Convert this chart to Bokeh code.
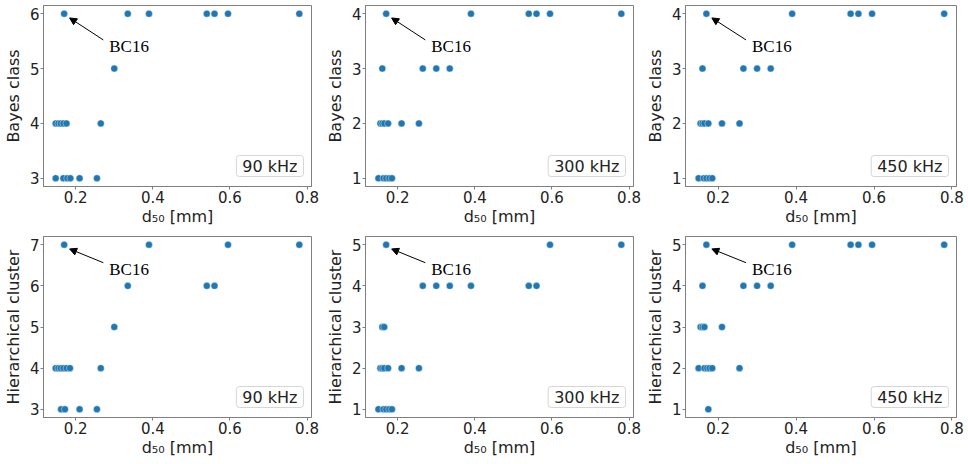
from bokeh.plotting import figure
from bokeh.layouts import column, row
from bokeh.models import Range1d, FixedTicker, Label, Arrow, NormalHead
from bokeh.embed import file_html
from bokeh.resources import INLINE

# ---------------- data ----------------
x_ticks = [0.2, 0.4, 0.6, 0.8]
x_label = "d\u2085\u2080 [mm]"
bc16_d50 = 0.17

bayes90_d50 = [0.17, 0.335, 0.39, 0.54, 0.56, 0.595, 0.78, 0.30,
               0.148, 0.155, 0.161, 0.168, 0.176, 0.265,
               0.148, 0.168, 0.178, 0.186, 0.21, 0.255]
bayes90_cls = [6, 6, 6, 6, 6, 6, 6, 5,
               4, 4, 4, 4, 4, 4,
               3, 3, 3, 3, 3, 3]

bayes300_d50 = [0.17, 0.39, 0.54, 0.56, 0.595, 0.78,
                0.16, 0.265, 0.30, 0.335,
                0.155, 0.16, 0.165, 0.175, 0.21, 0.255,
                0.15, 0.163, 0.17, 0.178, 0.185]
bayes300_cls = [4, 4, 4, 4, 4, 4,
                3, 3, 3, 3,
                2, 2, 2, 2, 2, 2,
                1, 1, 1, 1, 1]

bayes450_d50 = [0.17, 0.39, 0.54, 0.56, 0.595, 0.78,
                0.16, 0.265, 0.30, 0.335,
                0.155, 0.16, 0.165, 0.175, 0.21, 0.255,
                0.15, 0.163, 0.17, 0.178, 0.185]
bayes450_cls = [4, 4, 4, 4, 4, 4,
                3, 3, 3, 3,
                2, 2, 2, 2, 2, 2,
                1, 1, 1, 1, 1]

hier90_d50 = [0.17, 0.39, 0.595, 0.78,
              0.335, 0.54, 0.56,
              0.30,
              0.148, 0.155, 0.161, 0.168, 0.176, 0.185, 0.265,
              0.162, 0.172, 0.21, 0.255]
hier90_cls = [7, 7, 7, 7,
              6, 6, 6,
              5,
              4, 4, 4, 4, 4, 4, 4,
              3, 3, 3, 3]

hier300_d50 = [0.17, 0.595, 0.78,
               0.265, 0.30, 0.335, 0.39, 0.54, 0.56,
               0.16, 0.165,
               0.155, 0.16, 0.165, 0.175, 0.21, 0.255,
               0.15, 0.163, 0.17, 0.178, 0.185]
hier300_cls = [5, 5, 5,
               4, 4, 4, 4, 4, 4,
               3, 3,
               2, 2, 2, 2, 2, 2,
               1, 1, 1, 1, 1]

hier450_d50 = [0.17, 0.39, 0.54, 0.56, 0.595, 0.78,
               0.16, 0.265, 0.30, 0.335,
               0.155, 0.16, 0.165, 0.21,
               0.15, 0.165, 0.172, 0.178, 0.185, 0.255,
               0.175]
hier450_cls = [5, 5, 5, 5, 5, 5,
               4, 4, 4, 4,
               3, 3, 3, 3,
               2, 2, 2, 2, 2, 2,
               1]

# ---------------- styling / layout ----------------
LEFT = 41
FRAME_H = 181
TOP = 5
DOT = "#1f77b4"
SPINE = "#7f7f7f"
TXT = "#222222"
FONT = "DejaVu Sans"

all_x = (bayes90_d50 + bayes300_d50 + bayes450_d50 +
         hier90_d50 + hier300_d50 + hier450_d50)
xmin, xmax = min(all_x), max(all_x)
xpad = 0.05 * (xmax - xmin)
X0, X1 = xmin - xpad, xmax + xpad


def panel(xs, ys, ylabel, freq, width, frame_w, bottom):
    ymin, ymax = min(ys), max(ys)
    ypad = 0.05 * (ymax - ymin)
    Y0, Y1 = ymin - ypad, ymax + ypad
    p = figure(width=width, height=TOP + FRAME_H + bottom,
               x_range=Range1d(X0, X1), y_range=Range1d(Y0, Y1),
               output_backend="svg", toolbar_location=None,
               min_border_left=LEFT, min_border_right=width - LEFT - frame_w,
               min_border_top=TOP, min_border_bottom=bottom)
    p.xgrid.visible = False
    p.ygrid.visible = False
    p.outline_line_color = SPINE
    p.outline_line_width = 1
    p.background_fill_color = "white"
    p.border_fill_color = "white"

    p.xaxis.ticker = FixedTicker(ticks=x_ticks)
    p.yaxis.ticker = FixedTicker(ticks=list(range(ymin, ymax + 1)))
    p.xaxis.axis_label = x_label
    p.yaxis.axis_label = ylabel
    for ax in (p.xaxis[0], p.yaxis[0]):
        ax.axis_line_color = SPINE
        ax.major_tick_line_color = SPINE
        ax.minor_tick_line_color = None
        ax.major_tick_out = 3
        ax.major_tick_in = 0
        ax.major_label_standoff = 1
        ax.major_label_text_font = FONT
        ax.major_label_text_font_size = "15px"
        ax.major_label_text_color = TXT
        ax.axis_label_text_font = FONT
        ax.axis_label_text_font_size = "16px"
        ax.axis_label_text_font_style = "normal"
        ax.axis_label_text_color = TXT
    p.xaxis.axis_label_standoff = 1
    p.yaxis.axis_label_standoff = 4

    p.scatter(xs, ys, size=7, fill_color=DOT, line_color="white",
              line_width=0.4)

    # BC16 annotation (text offset in data units, arrow shrunk in pixels)
    sx = frame_w / (X1 - X0)
    sy = FRAME_H / (Y1 - Y0)
    bx, by = bc16_d50, ymax
    tx, ty = bx + 0.117, by - 0.6
    p.add_layout(Arrow(end=NormalHead(size=7, fill_color="black",
                                      line_color="black", line_width=1),
                       x_start=tx - 6 / sx, y_start=ty + 6.7 / sy,
                       x_end=bx + 5.5 / sx, y_end=by - 4.2 / sy,
                       line_color="black", line_width=1))
    p.add_layout(Label(x=tx, y=ty, text="BC16",
                       text_font="Liberation Serif",
                       text_font_size="17px", text_color="black",
                       text_align="left", text_baseline="middle"))

    # frequency box
    p.add_layout(Label(x=X1, y=Y0, x_offset=-8, y_offset=10,
                       text=freq, text_font=FONT, text_font_size="16px",
                       text_color=TXT, text_align="right",
                       text_baseline="bottom",
                       background_fill_color="white",
                       border_line_color="#d6d6d6", border_line_width=1,
                       padding=dict(left=6, right=6, top=1, bottom=1),
                       border_radius=3))
    return p


widths = [322, 320, 325]
frames = [270, 270, 273]
bottoms = [45, 46]
ylabels = ["Bayes class", "Hierarchical cluster"]
freqs = ["90 kHz", "300 kHz", "450 kHz"]
rows_data = [
    [(bayes90_d50, bayes90_cls), (bayes300_d50, bayes300_cls),
     (bayes450_d50, bayes450_cls)],
    [(hier90_d50, hier90_cls), (hier300_d50, hier300_cls),
     (hier450_d50, hier450_cls)],
]

rows = []
for r, rd in enumerate(rows_data):
    figs = []
    for c, (xs, ys) in enumerate(rd):
        figs.append(panel(xs, ys, ylabels[r], freqs[c], widths[c],
                          frames[c], bottoms[r]))
    rows.append(row(*figs))
layout = column(*rows)

open("out.html", "w").write(file_html(layout, INLINE))
